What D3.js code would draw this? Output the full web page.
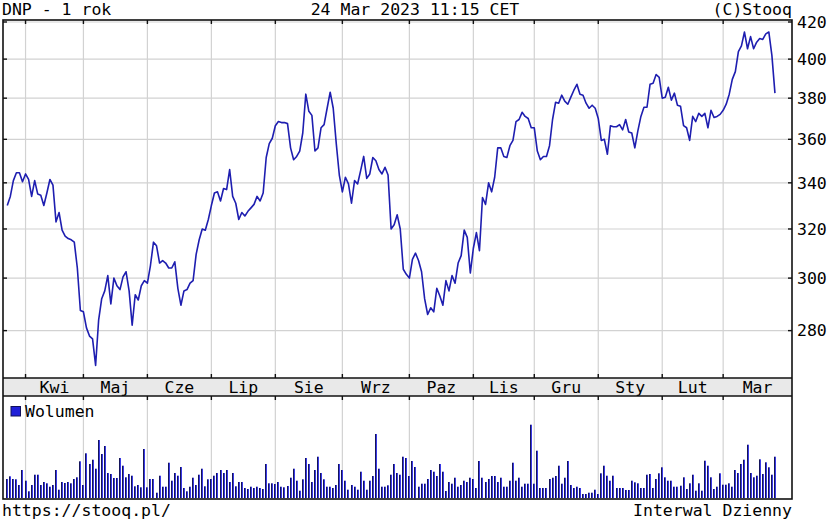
<!DOCTYPE html>
<html>
<head>
<meta charset="utf-8">
<script src="https://cdn.jsdelivr.net/npm/d3@7"></script>
<style>
  body { margin: 0; background: #fff; }
  svg { display: block; }
  text { font-family: "DejaVu Sans Mono", monospace; font-size: 16.5px; fill: #000; }
</style>
</head>
<body>
<svg id="chart"></svg>
<script>
// closing prices, one per trading day (24 Mar 2022 .. 24 Mar 2023)
const prices = [
  330, 334, 341, 344.5, 344.5, 340.5, 344, 341.5, 334, 341,
  335, 334.5, 330, 335.5, 341.5, 339, 323, 327, 319.5, 317,
  316, 315.5, 314.5, 304, 287.5, 287, 281, 278, 277, 267.5,
  284, 292, 295, 301, 290, 300, 297, 295.5, 300.5, 302.5,
  295, 282, 293.5, 291.5, 297, 299, 298, 305, 314.5, 313,
  306, 307, 306, 304, 304, 306.5, 296, 289.5, 295, 295.5,
  298, 299, 309.5, 315.5, 320, 319.5, 324, 330, 335.5, 336,
  332, 337.5, 337, 346, 334, 331, 324, 327, 325.5, 327.5,
  329, 330.5, 334, 332, 335.5, 351.5, 358, 360.5, 366.5, 368.5,
  368, 368, 367.5, 356, 350.5, 352, 354.5, 363, 382, 373.5,
  371.5, 354.5, 356, 365.5, 367, 375, 383, 375, 358, 343.5,
  336, 342.5, 339.5, 331, 341, 339.5, 345.5, 352, 342, 344,
  351.5, 350, 346, 344, 347, 343.5, 320, 321.8, 326, 320,
  303.5, 301.5, 300, 307.5, 310, 307, 302.5, 292, 286, 288.5,
  287, 296, 293, 289.5, 299, 295, 301, 298, 306, 309,
  319.5, 316.5, 302, 312, 318.5, 311, 333.5, 330.5, 340, 336,
  342.5, 356, 356, 352, 351.5, 357, 359.5, 368.5, 369.5, 373,
  371, 370, 365.5, 365.5, 354.5, 350.5, 352, 352, 357, 369.5,
  378, 377.5, 381.5, 378.5, 377, 380.5, 384, 387, 382, 381.5,
  377.5, 375, 376.5, 375, 370, 359.5, 360, 353, 366.5, 366,
  366, 367, 364.5, 369.5, 363.5, 363, 356, 364, 371, 375.5,
  375.5, 387, 387.5, 392, 390.5, 380, 380.5, 385.5, 379, 382.5,
  376.5, 376, 366.5, 365.5, 359.5, 371, 368.5, 372.5, 371, 372.5,
  365.5, 374, 370.5, 371, 372, 374, 377, 382, 389.5, 393.5,
  404, 407, 414.5, 405.5, 412, 405.5, 409, 411, 410.5, 413.5,
  414.5, 402, 382.5
];

// daily volume (relative units)
const volumes = [
  19, 21.7, 19, 18.7, 13, 28, 17.3, 6.7, 13, 23.3,
  23.3, 13, 16, 14.7, 11.3, 13, 28, 8.3, 16, 15,
  16, 14.7, 19, 20.7, 36.7, 13, 44.7, 34, 38.3, 29.3,
  58, 44, 52, 25, 24, 20, 20, 40, 32.3, 20.7,
  24, 22.3, 11.7, 13, 10.7, 49, 10.7, 19, 19, 5.3,
  22.3, 11.3, 11.3, 35.3, 17.3, 25, 22.3, 31, 10, 6.7,
  11.3, 20.3, 13, 23.3, 29.3, 11.7, 18.7, 19, 22.3, 25,
  28, 25, 28, 16, 25, 11.7, 16, 16, 10, 9,
  11.3, 10, 11.3, 10, 9, 34, 14.7, 14.7, 14, 16,
  11.3, 10.7, 12, 20.3, 29.3, 17.3, 7.3, 18.7, 40, 34,
  16, 28, 41.3, 25, 18.7, 11.3, 11.3, 10, 13, 34,
  28, 17.3, 8.3, 13, 11.3, 8.3, 26.3, 17.3, 8.3, 17.3,
  22, 64, 29.3, 11.3, 11.3, 12.7, 23.3, 34, 25, 23.3,
  41.3, 40, 22, 37, 31, 11.3, 14.3, 14.3, 19, 28,
  26.3, 22, 34, 26.3, 7, 16, 14.3, 20.3, 11.3, 13,
  17.3, 16, 20.3, 19, 10, 37, 20.3, 16, 19, 22,
  22, 16, 20.3, 11.3, 11.3, 17.3, 35.3, 17.3, 20.3, 11.3,
  14.3, 14.3, 73.3, 14.3, 47.3, 10, 10, 10, 19, 20.3,
  22, 32.3, 14.3, 20.3, 37, 13, 10, 11.3, 10, 4,
  4, 5.3, 5.3, 8.3, 4, 24.7, 32.3, 22.3, 17.3, 22.3,
  10, 10, 10, 8, 8, 17.3, 15.7, 14.7, 10, 10,
  23.3, 24, 10, 19, 24.7, 30.7, 20.7, 17.3, 17.3, 11.3,
  11.3, 12.3, 20.7, 9, 14.7, 23.3, 7.3, 14.7, 7.3, 37.3,
  32.3, 20.7, 9, 11.3, 24.7, 13.3, 13.3, 14.7, 11.3, 28,
  25, 34, 38.3, 53.3, 25, 20.7, 22.3, 38.7, 24, 35.7,
  30.7, 23.3, 41.3
];

// months and index of their first trading day
const months = ["Kwi", "Maj", "Cze", "Lip", "Sie", "Wrz", "Paz", "Lis", "Gru", "Sty", "Lut", "Mar"];
const monthStart = [6, 25, 46, 67, 88, 110, 132, 153, 173, 194, 215, 235];
const priceTicks = [280, 300, 320, 340, 360, 380, 400, 420];

const W = 829, H = 524;
const plotL = 3, plotR = 792;
const plotT = 20, mainB = 378;
const bandB = 396, volB = 499;

const svg = d3.select("#chart").attr("width", W).attr("height", H);

const x = d3.scaleLinear().domain([-1.4, 257.6]).range([plotL, plotR]);
const y = d3.scaleLog().domain([263.1, 421.1]).range([mainB, plotT]);
const yVol = d3.scaleLinear().domain([0, 100]).range([volB - 1, volB - 101]);

const grid = "#d2d2d2";

// horizontal grid (price panel)
svg.append("g")
  .selectAll("line")
  .data(priceTicks)
  .join("line")
    .attr("x1", plotL).attr("x2", plotR)
    .attr("y1", d => y(d)).attr("y2", d => y(d))
    .attr("stroke", grid).attr("stroke-width", 1.2);

// vertical grid, both panels
svg.append("g")
  .selectAll("line")
  .data(monthStart)
  .join("line")
    .attr("x1", d => x(d)).attr("x2", d => x(d))
    .attr("y1", plotT).attr("y2", volB)
    .attr("stroke", grid).attr("stroke-width", 1.2);

// month band
svg.append("rect")
  .attr("x", plotL).attr("y", mainB)
  .attr("width", plotR - plotL).attr("height", bandB - mainB)
  .attr("fill", "#e9e9e9");

const labelPos = monthStart.map((d, i) => (d + (i < monthStart.length - 1 ? monthStart[i + 1] : x.domain()[1])) / 2);
svg.append("g")
  .selectAll("text")
  .data(months)
  .join("text")
    .attr("x", (d, i) => x(labelPos[i]))
    .attr("y", 393)
    .attr("text-anchor", "middle")
    .text(d => d);

// price line
const line = d3.line()
  .x((d, i) => x(i))
  .y(d => y(d));

svg.append("path")
  .datum(prices)
  .attr("d", line)
  .attr("fill", "none")
  .attr("stroke", "#1e1eb0")
  .attr("stroke-width", 1.6)
  .attr("stroke-linejoin", "round");

// volume bars
const bars = svg.append("g")
  .selectAll("g")
  .data(volumes)
  .join("g");
bars.append("rect")
  .attr("x", (d, i) => Math.round(x(i)) - 1)
  .attr("y", d => yVol(d))
  .attr("width", 1)
  .attr("height", d => yVol(0) - yVol(d))
  .attr("fill", "#14145a");
bars.append("rect")
  .attr("x", (d, i) => Math.round(x(i)))
  .attr("y", d => yVol(d))
  .attr("width", 1)
  .attr("height", d => yVol(0) - yVol(d))
  .attr("fill", "#3a3ae6");

// frames
const frame = svg.append("g").attr("fill", "none").attr("stroke", "#111").attr("stroke-width", 1.6);
frame.append("rect").attr("x", plotL).attr("y", plotT).attr("width", plotR - plotL).attr("height", volB - plotT);
frame.append("line").attr("x1", plotL).attr("x2", plotR).attr("y1", mainB).attr("y2", mainB);
frame.append("line").attr("x1", plotL).attr("x2", plotR).attr("y1", bandB).attr("y2", bandB);

// ticks
const ticks = svg.append("g").attr("stroke", "#111").attr("stroke-width", 1.4);
monthStart.forEach(d => {
  const xx = x(d);
  ticks.append("line").attr("x1", xx).attr("x2", xx).attr("y1", plotT).attr("y2", plotT + 4);
  ticks.append("line").attr("x1", xx).attr("x2", xx).attr("y1", mainB - 4).attr("y2", mainB);
  ticks.append("line").attr("x1", xx).attr("x2", xx).attr("y1", bandB).attr("y2", bandB + 4);
});
priceTicks.forEach(d => {
  ticks.append("line").attr("x1", plotL).attr("x2", plotL + 4).attr("y1", y(d)).attr("y2", y(d));
  ticks.append("line").attr("x1", plotR - 4).attr("x2", plotR).attr("y1", y(d)).attr("y2", y(d));
});

// right axis labels
const yAxis = d3.axisRight(y).tickValues(priceTicks).tickSize(0).tickPadding(5).tickFormat(d3.format("d"));
const ax = svg.append("g").attr("transform", `translate(${plotR},0)`).call(yAxis);
ax.select(".domain").remove();
ax.selectAll("text").style("font-family", "DejaVu Sans Mono, monospace").style("font-size", "16.5px").attr("fill", "#000");

// legend
svg.append("rect").attr("x", 11).attr("y", 406.5).attr("width", 9.5).attr("height", 9.5)
  .attr("fill", "#2020d8").attr("stroke", "#10105a").attr("stroke-width", 1);
svg.append("text").attr("x", 25).attr("y", 416.5).text("Wolumen");

// header and footer
svg.append("text").attr("x", 2).attr("y", 15).text("DNP - 1 rok");
svg.append("text").attr("x", 415).attr("y", 15).attr("text-anchor", "middle").text("24 Mar 2023 11:15 CET");
svg.append("text").attr("x", plotR).attr("y", 15).attr("text-anchor", "end").text("(C)Stooq");
svg.append("text").attr("x", 2).attr("y", 516).text("https://stooq.pl/");
svg.append("text").attr("x", plotR).attr("y", 516).attr("text-anchor", "end").text("Interwal Dzienny");
</script>
</body>
</html>
